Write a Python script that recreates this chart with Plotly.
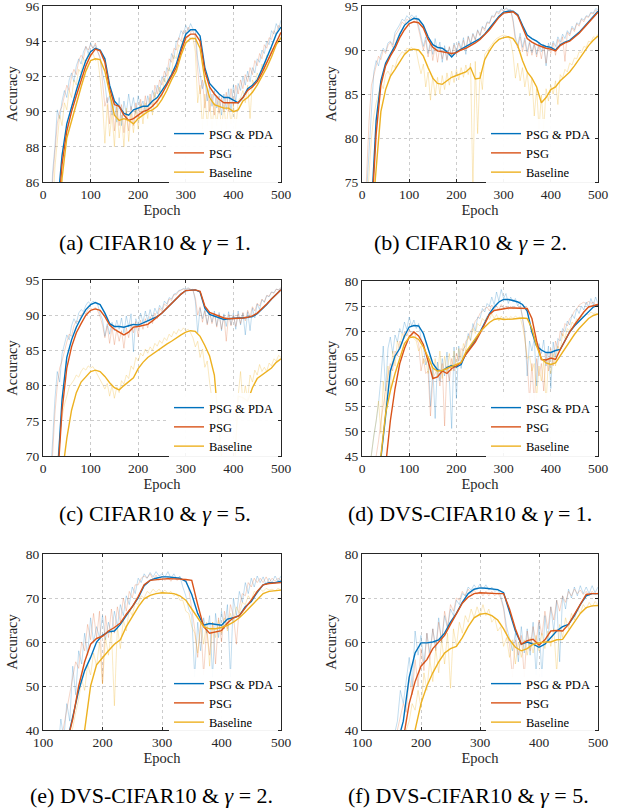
import plotly.graph_objects as go

# ---------------- epochs ----------------
EP10_0 = list(range(0, 501, 10))
EP5_0 = list(range(0, 501, 5))
EP10_100 = list(range(100, 501, 10))
EP5_100 = list(range(100, 501, 5))

SERIES = ["PSG & PDA", "PSG", "Baseline"]

# ---------------- (a) CIFAR10, gamma=1 ----------------
A_PDA = [80,80,80,84.5,87.5,89.3,90.3,91.2,92.1,92.9,93.4,93.6,93.5,93.0,91.5,90.6,90.3,89.9,89.8,90.1,90.2,90.3,90.3,90.6,90.8,91.2,91.6,92.1,92.7,93.6,94.4,94.65,94.65,94.3,92.5,91.6,91.3,91.0,90.8,90.8,90.65,90.5,90.8,91.3,91.5,91.8,92.4,93.0,93.7,94.4,94.8]
A_PSG = [80,80,80,83.5,87.0,88.9,90.0,90.9,91.8,92.6,93.2,93.55,93.45,92.8,91.3,90.4,90.3,89.8,89.5,89.6,89.8,90.0,90.1,90.3,90.6,91.0,91.5,92.0,92.5,93.4,94.2,94.4,94.4,94.0,92.3,91.4,91.0,90.7,90.5,90.5,90.5,90.5,90.8,91.2,91.4,91.7,92.2,92.8,93.4,94.0,94.5]
A_BASE = [80,80,80,82,86.2,88.5,89.5,90.4,91.4,92.3,92.9,93.0,92.95,92.3,91.0,89.8,89.5,89.6,89.5,89.3,89.6,89.8,90.0,90.1,90.3,90.7,91.2,91.8,92.3,93.2,93.9,94.15,94.15,93.6,91.8,90.8,90.4,90.3,90.2,90.2,90.0,90.1,90.6,90.8,91.1,91.5,92.0,92.5,93.1,93.8,94.2]
A_PDA_RAW = [75,75,78,82,86.5,88,90.1,89.6,90.6,91.2,90.8,91.8,92.2,91.7,92.6,93.0,92.7,93.4,93.7,93.3,93.9,93.6,93.8,93.4,93.1,92.2,91.6,90.5,90.9,89.8,90.6,89.4,90.8,89.2,90.6,89.9,91.0,90.1,90.8,89.9,90.9,90.2,90.6,90.0,90.9,90.4,91.2,90.8,91.5,91.1,92.0,91.7,92.5,92.3,93.3,93.0,94.0,94.1,94.6,94.4,94.9,94.6,95.0,94.7,94.6,93.0,92.0,91.3,91.8,90.6,91.4,90.3,91.2,90.2,90.9,89.8,91.0,90.1,91.3,90.0,91.5,90.6,91.6,91.2,92.0,91.5,92.3,91.7,92.5,92.2,93.0,92.8,93.5,93.3,94.0,93.8,94.6,94.4,95.0,94.7,95.2]
A_PSG_RAW = [75,75,77,81,86,87.7,89.3,90.0,90.3,90.9,91.5,91.2,92.0,92.4,92.1,92.9,93.2,93.0,93.7,93.5,93.8,93.6,93.9,93.4,93.0,91.7,90.3,90.8,89.3,90.7,88.9,90.3,89.2,90.4,88.8,90.0,88.9,90.3,89.2,90.5,89.6,90.7,89.8,90.9,90.0,91.0,90.3,91.5,91.0,91.8,91.5,92.3,92.0,93.0,92.8,93.6,93.5,94.2,94.0,94.6,94.4,94.8,94.5,94.6,94.2,92.4,91.0,91.8,90.2,91.3,90.0,91.0,89.8,90.9,89.9,90.8,90.0,91.1,90.0,91.3,90.3,91.5,91.0,91.8,91.3,92.1,91.7,92.5,92.1,92.9,92.6,93.3,93.0,93.8,93.6,94.2,94.1,94.6,94.4,94.9,94.7]
A_BASE_RAW = [75,75,76,79,84,86.8,88.5,89.8,89.2,90.5,90.1,91.2,90.8,91.8,91.5,92.4,92.2,93.0,92.8,93.3,93.1,93.3,92.9,93.0,91.9,90.5,88.2,90.4,88.6,89.9,88.0,90.3,88.5,89.8,88.0,90.2,88.3,89.9,88.8,90.1,89.0,90.4,89.3,90.5,89.6,90.8,89.8,91.1,90.3,91.4,90.8,91.9,91.5,92.5,92.2,93.2,93.0,93.8,93.6,94.2,94.0,94.3,94.1,94.2,93.4,90.5,91.5,89.0,91.0,89.2,90.7,89.0,90.5,89.2,90.6,88.9,90.4,89.0,90.5,89.3,90.4,89.0,90.6,90.8,91.2,90.5,91.5,89.6,91.8,91.5,92.2,91.9,92.7,92.4,93.2,93.0,93.6,93.5,94.0,93.9,94.3]

# ---------------- (b) CIFAR10, gamma=2 ----------------
B_PDA = [70,70,72,82,86.5,88.5,89.5,90.5,91.8,92.8,93.3,93.6,93.5,92.8,91.5,90.6,90.3,90.2,89.8,89.2,89.8,90.1,90.4,90.7,91.0,91.3,91.8,92.5,93.2,93.8,94.3,94.4,94.4,94.0,92.8,91.7,91.3,91.0,90.6,90.4,90.3,90.0,90.6,90.9,91.1,91.5,92.0,92.6,93.2,93.8,94.4]
B_PSG = [70,70,71,80.5,86,88.2,89.3,90.2,91.4,92.3,93.0,93.2,93.1,92.5,91.2,90.3,89.9,89.8,89.7,89.6,89.7,90.0,90.2,90.5,90.8,91.2,91.7,92.3,93.0,93.7,94.2,94.3,94.35,93.9,92.5,91.3,90.9,90.6,90.4,90.2,90.1,89.9,90.5,90.8,91.0,91.4,91.9,92.5,93.1,93.7,94.3]
B_BASE = [70,70,70,76.5,83,85.5,87,87.8,88.7,89.5,90.0,90.1,90.0,89.3,88.0,86.8,86.2,86.1,86.5,86.9,87.1,87.3,87.5,88.0,86.7,86.8,88.9,89.9,90.7,91.2,91.4,91.5,91.3,90.5,88.8,87.5,86.8,85.8,84.0,84.6,85.5,85.8,86.5,87.0,87.5,88.2,89.0,89.7,90.5,91.1,91.6]
B_PDA_RAW = [70,70,74,79,84,87.5,88.8,88.2,89.5,90.2,89.8,90.8,91.0,90.6,92.0,92.4,92.9,93.5,93.3,93.9,93.6,94.0,93.7,93.9,92.8,91.4,90.4,91.5,89.6,91.0,89.5,91.3,89.8,90.9,88.6,90.5,88.9,90.3,89.4,90.8,89.9,91.0,90.2,91.4,89.5,91.6,90.8,91.9,91.2,92.3,91.7,92.7,92.4,93.2,93.1,93.9,93.8,94.4,94.3,94.7,94.5,94.8,94.6,94.6,93.5,91.5,90.5,91.9,90.3,91.4,89.8,91.0,89.7,90.8,89.5,90.9,89.8,90.6,88.2,90.8,90.0,91.0,90.4,91.5,90.9,91.8,91.3,92.2,91.8,92.7,92.3,93.1,92.9,93.6,93.4,93.9,93.8,94.3,94.2,94.7,94.6]
B_PSG_RAW = [70,70,76,82,86,87,88.3,89.3,88.9,90.0,89.6,90.5,90.9,90.3,91.6,92.1,92.5,93.2,92.9,93.5,93.3,93.7,93.4,93.5,92.4,91.0,90.0,91.1,89.2,90.8,88.8,90.5,88.6,90.4,89.0,90.2,88.8,90.4,89.2,90.6,89.5,90.8,89.9,91.1,90.2,91.5,90.6,91.8,91.1,92.2,91.6,92.6,92.2,93.1,93.0,93.8,93.7,94.3,94.1,94.6,94.4,94.7,94.5,94.5,93.2,91.0,90.2,91.5,89.8,91.1,89.3,90.8,89.4,90.6,89.2,90.5,89.0,90.6,88.5,90.5,89.6,90.8,89.4,91.2,90.5,91.5,88.7,92.0,91.6,92.5,92.1,93.0,92.7,93.5,93.2,93.8,93.7,94.2,94.1,94.5,94.4]
B_BASE_RAW = [70,70,72,76,80,82.5,84,85,86.3,85.6,87.2,87.6,87.1,88.3,88.0,89.0,89.4,89.8,89.6,90.2,90.1,90.3,90.0,89.9,88.5,87.3,88.4,85.8,87.5,84.3,87.0,84.8,86.9,85.0,87.1,85.5,87.4,86.0,87.6,86.3,87.8,86.6,88.0,86.9,88.3,87.2,88.5,74,88.7,80.5,87.5,85.5,89.5,89.9,90.3,90.7,91.0,91.3,91.5,91.6,91.7,91.6,91.5,91.0,89.5,86.8,88.5,86.5,88.0,85.8,87.4,84.8,86.8,82.5,85.6,81.0,84.9,81.0,85.6,84.2,86.0,85.0,86.5,83.8,87.2,86.8,87.8,87.5,88.5,88.3,89.1,89.0,89.8,89.7,90.4,90.3,91.0,90.9,91.5,91.4,91.8]

# ---------------- (c) CIFAR10, gamma=5 ----------------
C_PDA = [60,60,62,67,78,84,86.5,88.3,89.6,90.8,91.5,91.8,91.5,90.3,88.8,88.4,88.4,88.3,88.5,88.7,88.6,88.9,89.2,89.4,89.8,90.3,91.0,91.7,92.4,93.0,93.5,93.6,93.6,93.3,91.0,90.1,89.9,89.6,89.4,89.5,89.6,89.6,89.6,89.7,89.8,90.2,90.8,91.5,92.3,93.0,93.6]
C_PSG = [60,60,61,66,76.5,82.5,85.5,87.5,88.8,90.0,90.7,90.9,90.7,89.8,88.6,88.0,87.6,87.2,87.6,88.3,88.4,88.5,88.7,89.2,89.7,90.3,91.0,91.7,92.4,93.0,93.5,93.6,93.6,93.4,91.3,90.4,90.1,89.8,89.6,89.5,89.5,89.5,89.6,89.7,89.9,90.3,90.9,91.6,92.3,93.0,93.6]
C_BASE = [60,60,60,62,67,72.5,76.5,79.0,80.5,81.3,82.0,82.2,82.0,81.3,80.4,79.7,79.4,80.0,80.5,81.1,82.4,83.3,84.0,84.5,85.0,85.5,85.9,86.3,86.8,87.2,87.6,87.8,87.7,87.0,85.7,84.2,81.5,74.5,66,64,65,78.5,78.3,77.8,79.7,81.0,81.5,81.9,82.5,83.3,83.8]
C_PDA_RAW = [60,60,62,66,72,78,82,80.5,84.5,85.8,87.2,86.5,88.5,89.5,88.8,90.3,90.8,90.5,91.4,91.9,91.6,92.0,91.8,91.5,90.2,89.4,87.0,88.8,87.3,89.0,87.8,89.3,88.0,89.6,87.5,89.9,88.3,90.2,84.8,89.5,88.5,90.3,89.0,90.6,89.2,90.8,89.6,91.0,90.2,91.4,90.8,92.0,91.6,92.5,92.3,93.0,93.1,93.5,93.6,93.8,93.7,93.9,93.6,93.7,92.0,87.5,91.0,89.5,90.8,88.8,90.5,89.0,90.6,88.5,90.4,87.8,90.2,88.4,90.5,88.6,90.3,88.0,90.6,88.6,90.3,87.2,90.5,87.8,91.0,89.6,91.6,90.8,92.2,91.8,92.8,92.6,93.3,93.2,93.7,93.6,93.9]
C_PSG_RAW = [60,60,61,64,70,76,80,82.5,83.5,85.0,86.2,87.3,87.0,88.5,89.2,89.0,90.0,90.4,90.2,90.9,91.0,90.8,91.1,90.6,89.8,88.6,86.8,88.5,86.0,88.3,85.8,88.0,86.3,87.8,85.3,88.2,86.8,88.8,87.5,89.1,86.9,89.3,88.0,89.5,88.2,89.8,88.8,90.3,89.5,91.0,90.5,91.6,91.3,92.3,92.1,92.9,92.9,93.4,93.5,93.7,93.6,93.8,93.7,93.5,92.5,90.0,91.2,89.0,90.6,88.6,90.5,88.8,90.3,88.3,90.2,88.0,89.9,86.3,90.1,88.5,90.0,88.4,90.2,88.8,90.4,89.2,90.7,89.8,91.2,90.6,91.7,91.3,92.3,91.9,92.8,92.7,93.3,93.1,93.7,93.6,93.9]
C_BASE_RAW = [60,60,60,61,62,65,69,72.5,75.5,77.3,78.5,79.8,80.3,80.8,81.5,81.2,82.0,82.5,82.2,82.8,82.5,82.7,82.1,81.5,81.0,80.2,79.5,80.3,78.5,80.0,78.2,79.8,79.0,80.7,80.2,81.5,81.0,82.8,82.3,84.0,83.5,84.6,84.2,85.2,84.6,85.5,85.0,86.0,85.6,86.4,86.0,86.8,86.4,87.3,86.9,87.7,87.3,88.0,87.7,88.2,87.8,88.0,87.5,86.8,85.5,86.3,84.0,85.2,82.6,83.5,80.5,78.0,75.5,72.0,68.0,66.0,69.5,64.0,69.0,66.0,70.5,76.0,78.5,82.0,77.5,80.0,78.0,81.5,80.5,82.2,81.5,83.0,82.0,82.6,82.0,83.2,82.8,83.8,83.5,84.3,84.0]

# ---------------- (d) DVS-CIFAR10, gamma=1 ----------------
D_PDA = [35,35,36,40,44.5,53,62,65.0,66.5,69,70.8,71.1,71.0,69.5,66.5,63.5,62.2,62.0,62.7,63.1,62.8,63.3,65.5,66.8,68.2,69.8,71.5,73.5,74.8,75.8,76.3,76.3,76.1,75.8,75.3,74.0,69.8,67.0,66.2,65.7,65.7,66.1,66.3,68.0,69.8,71.0,72.0,73.0,74.0,74.8,75.2]
D_PSG = [35,35,35,36,40,43,52,58.5,63.5,66.5,68.8,69.8,69.0,67.3,64.0,60.5,60.8,62.0,61.5,62.5,63.0,63.7,65.3,66.5,67.8,69.5,71.3,73.3,74.1,74.3,74.5,74.6,74.6,74.6,74.6,74.5,72.5,68.0,64.3,64.2,64.6,64.3,66.3,68.2,69.8,71.2,72.5,73.8,74.8,75.1,75.3]
D_BASE = [35,35,37,41,45,53.5,58,61.5,64.5,67.5,68.7,68.8,68.3,66.8,64.8,62.6,62.0,62.1,62.5,62.9,63.3,63.7,65.8,67.2,68.5,69.8,70.8,71.7,72.3,72.5,72.3,72.3,72.4,72.5,72.6,72.5,70.5,67.0,64.5,63.6,63.3,63.6,65.0,66.5,68.0,69.3,70.5,71.5,72.5,73.1,73.4]
D_PDA_RAW = [35,35,38,42,45,49,52,55.5,60.5,67,58,66.5,68.8,65.5,69.2,67.8,70.5,69.5,71.8,70.3,72.8,71.0,72.2,70.5,71.5,68.5,67.0,63.2,64.5,55.0,62.5,52.5,63.8,60.0,64.5,61.0,65.8,60.5,50.5,66.8,56.5,67.0,62.5,66.5,67.0,69.5,68.2,71.5,70.0,72.8,72.5,74.5,73.8,75.5,75.0,76.8,75.3,77.8,76.0,78.3,76.5,77.5,75.5,76.8,75.8,76.5,75.0,76.0,72.5,70.0,61.0,68.0,66.0,68.5,59.0,67.5,65.5,68.2,63.0,67.0,58.5,67.8,64.8,68.5,68.0,70.5,69.8,72.0,71.2,73.3,72.5,74.5,73.5,75.0,74.2,75.8,74.8,76.5,75.2,76.8,75.5]
D_PSG_RAW = [35,35,36,38,40,42,45,48,52,55,58.5,61,63.5,62,66,65,68,67.5,69.8,69.0,70.3,69.5,70.0,68.5,67.5,62.0,64.5,61.5,62.0,53.0,60.5,61.5,62.5,59.0,63.5,51.0,63.0,60.0,64.5,62.0,65.5,64.0,66.5,66.0,68.0,68.5,70.0,70.5,72.0,72.5,73.5,74.0,74.5,74.8,74.0,75.2,74.3,75.0,74.2,75.3,74.5,75.0,74.3,75.0,74.4,74.8,74.5,74.8,73.0,68.0,64.0,56.0,63.5,55.5,64.5,61.0,63.5,58.0,65.5,62.0,66.5,63.0,68.0,66.5,70.0,69.0,71.5,71.0,72.5,73.0,74.0,74.5,75.2,75.5,75.8,75.3,76.0,75.5,75.8,75.2,75.5]
D_BASE_RAW = [35,35,38,42,45,49,52,56,49.5,60,53.5,63,58,66,63,68,66.5,69.5,68.5,69.5,69.0,69.3,68.5,68.0,66.0,67.0,63.5,64.5,61.5,65.0,60.5,64.5,61.0,66.0,60.5,65.0,61.5,65.5,62.0,66.0,62.5,66.5,64.5,67.5,66.0,69.0,68.0,70.5,69.5,71.5,71.0,72.5,72.0,73.0,72.3,73.5,72.5,73.3,72.0,73.0,72.2,73.0,72.3,72.9,72.5,73.0,72.6,72.8,71.0,68.5,64.5,65.0,62.0,63.5,56.5,63.0,60.0,64.0,55.5,64.5,61.5,65.5,63.0,67.0,66.0,69.5,68.5,70.5,70.0,71.8,71.2,72.5,72.0,73.0,72.8,73.5,73.2,73.8,73.5,73.6,73.3]

# ---------------- (e) DVS-CIFAR10, gamma=2 ----------------
E_PDA = [30,30,31,33,37,43,49,53.5,56.5,60.0,61.5,62.3,62.5,64.0,66.0,67.8,70.0,72.8,74.0,74.5,74.8,74.8,74.7,74.5,73.8,70.8,66.5,63.8,64.2,64.0,63.8,65.2,65.5,66.0,68.0,69.2,71.3,73.0,73.5,73.5,73.8]
E_PSG = [30,30,31,33,37,42.5,50,55.5,59.5,60.8,61.3,62.5,63.3,64.3,66.3,68.0,70.3,73.0,74.0,74.2,74.3,74.4,74.4,74.3,74.2,74.0,68.5,63.5,62.0,62.3,62.6,64.3,65.5,66.0,67.7,69.5,71.5,73.0,73.3,73.4,73.5]
E_BASE = [25,25,26,28,30,33,37,40,50,54.8,56.5,58,59.5,60.5,63.5,65.8,68,69.8,70.6,71.0,71.2,71.1,71.0,70.5,69.5,67.5,65.5,63.5,63.0,63.0,63.3,63.8,64.5,65.5,66.8,68.2,69.8,71.0,71.5,71.7,71.8]
E_PDA_RAW = [30,30,31,32,33,35,42.5,38,46,42,54.5,48,58,55,62,57,65.5,60,63.5,61,66,60.5,64.5,62,67,63.5,68.5,66,70.5,68.5,72.5,71,74.5,73.5,75.5,74.5,75.8,74.8,76.0,75.0,75.5,74.8,76.0,74.5,75.5,74.2,75.0,72.5,70.5,67.5,66.0,52.0,64.5,58.0,65.5,62.0,66.0,52.0,66.5,61.0,67.0,63.0,68.5,52.0,70.0,66.0,71.5,69.0,73.5,71.0,74.5,72.5,75.0,73.5,74.8,73.0,74.5,73.5,75.0,73.8,75.0]
E_PSG_RAW = [30,30,30,31,32,34,37,41,45,48,52,55.5,54,60,58,64,60.5,66.5,61,67,50.5,66,61,67.5,62,68,64.5,70,67,71.5,70,73,73,74.5,75,74.5,75.5,74.2,75.2,74.0,75.0,74.0,74.8,73.8,74.8,74.0,74.5,74.0,74.2,72.0,68.0,63.0,56.5,64.5,52.5,63.0,57.0,64.5,55.0,65.5,60.0,67.0,63.0,68.5,66.0,59.5,68.0,71.0,70.5,73.5,72.5,74.5,73.5,74.5,73.5,74.8,73.5,74.5,73.8,74.5,74.0]
E_BASE_RAW = [25,25,26,27,28,30,32,34,36,38,40.5,44,47,51.5,49,55,52.5,57.5,54.5,60,50.5,61,57,62.5,45.5,63.5,58.5,65,62.5,67.5,66,69,68.5,70.5,70,71.5,71.0,72.0,71.3,72.0,71.2,71.8,71.0,71.5,70.5,71.0,69.5,69.5,67.0,66.5,63.5,62.0,57.5,64.0,59.5,64.5,54.5,64.5,61.0,65.0,62.0,65.5,62.5,66.5,64.5,68.0,66.5,69.0,68.5,70.5,69.5,71.5,71.0,72.0,71.5,72.2,71.8,72.0,71.6,72.2,71.8]

# ---------------- (f) DVS-CIFAR10, gamma=5 ----------------
F_PDA = [30,30,30,31,32,34,37,42,52,57.5,59.8,59.8,60.0,60.5,62.0,64.5,66.5,69.0,71.0,72.0,72.3,72.2,72.0,71.9,71.2,67.0,62.5,59.5,60.0,59.5,58.8,59.5,61.0,62.5,63.5,64.0,66.0,68.5,70.5,71.0,71.0]
F_PSG = [30,30,30,31,32,33,35,38,46,51,54.5,56.0,58.5,60.0,61.5,64.0,66.5,68.8,70.2,71.0,71.2,71.1,71.0,71.0,71.0,67.5,63.0,59.5,60.3,60.6,59.3,60.5,62.5,62.6,62.5,64.0,66.3,68.5,70.8,71.0,71.0]
F_BASE = [25,25,25,26,27,28,30,32,36,40,46,50.0,53,55.5,57.5,58.5,59.0,61.0,63.5,65.5,66.3,66.5,66.0,65.0,63.0,60.5,58.8,58.0,58.5,59.5,59.8,60.0,60.0,60.5,60.6,62.5,64.5,66.5,67.8,68.2,68.3]
F_PDA_RAW = [30,30,30,31,32,33,34,35,36,37,38,39,42,49,46,52,56.5,50,62.5,57,61.5,55,62,57.5,63,58.5,65.5,60,66,63,67.5,66,69.5,68.5,71.0,70.5,72.5,71.8,73.0,72.0,73.2,72.0,73.0,71.8,72.5,71.5,72.0,70.5,68.0,63.5,60.5,58.0,62.0,55.5,63.5,57.5,63.0,57.0,64.5,52.5,64.5,52.0,66.0,60.0,68.0,62.5,69.5,55.5,70.5,67.5,72.0,70.0,72.5,70.5,72.8,71.0,72.5,71.0,72.8,71.2,72.5]
F_PSG_RAW = [30,30,30,30,31,32,33,34,35,36,37,38,40,43,46,44,52,48,56,50,58.5,53.5,62,56,63,58,64.5,60,67,63.5,68.5,67,70,69.5,71.5,70.5,72.0,71.0,71.8,70.8,71.5,70.5,71.5,70.5,71.5,70.5,71.2,70.0,67.5,62.0,59.5,52.0,60.5,57.0,61.5,52.0,62.5,58.0,63.5,60.0,65.0,61.5,67.0,63.0,68.0,65.0,69.5,67.0,70.5,69.0,71.5,70.5,72.0,71.0,71.8,70.8,71.5,70.5,71.5,70.8,71.2]
F_BASE_RAW = [25,25,25,26,26,27,28,29,30,31,32,33,35,36,38,40,42,46,44.5,49,45,53,49,56,51,58.5,53,60.5,55,62,49.5,63,59,64.5,62,66,64.5,67.5,65.5,68.0,66.0,68.5,66.0,67.5,64.5,65.5,62.5,63.5,59.0,61.0,56.5,60.5,55.0,60.0,56.5,60.5,57.0,61.0,57.5,61.5,58.0,62.0,58.5,62.5,59.0,63.0,53.0,64.0,61.0,65.5,63.0,66.5,65.0,67.5,66.5,68.5,67.5,69.0,68.0,69.2,68.5]

PANELS = [
    dict(ep=EP10_0, ep_raw=EP5_0, s=[A_PDA, A_PSG, A_BASE], r=[A_PDA_RAW, A_PSG_RAW, A_BASE_RAW],
         xr=[0, 500], yr=[86, 96], yt=[86, 88, 90, 92, 94, 96], cap="(a) CIFAR10 &amp; <i>γ</i> = 1."),
    dict(ep=EP10_0, ep_raw=EP5_0, s=[B_PDA, B_PSG, B_BASE], r=[B_PDA_RAW, B_PSG_RAW, B_BASE_RAW],
         xr=[0, 500], yr=[75, 95], yt=[75, 80, 85, 90, 95], cap="(b) CIFAR10 &amp; <i>γ</i> = 2."),
    dict(ep=EP10_0, ep_raw=EP5_0, s=[C_PDA, C_PSG, C_BASE], r=[C_PDA_RAW, C_PSG_RAW, C_BASE_RAW],
         xr=[0, 500], yr=[70, 95], yt=[70, 75, 80, 85, 90, 95], cap="(c) CIFAR10 &amp; <i>γ</i> = 5."),
    dict(ep=EP10_0, ep_raw=EP5_0, s=[D_PDA, D_PSG, D_BASE], r=[D_PDA_RAW, D_PSG_RAW, D_BASE_RAW],
         xr=[0, 500], yr=[45, 80], yt=[45, 50, 55, 60, 65, 70, 75, 80], cap="(d) DVS-CIFAR10 &amp; <i>γ</i> = 1."),
    dict(ep=EP10_100, ep_raw=EP5_100, s=[E_PDA, E_PSG, E_BASE], r=[E_PDA_RAW, E_PSG_RAW, E_BASE_RAW],
         xr=[100, 500], yr=[40, 80], yt=[40, 50, 60, 70, 80], cap="(e) DVS-CIFAR10 &amp; <i>γ</i> = 2."),
    dict(ep=EP10_100, ep_raw=EP5_100, s=[F_PDA, F_PSG, F_BASE], r=[F_PDA_RAW, F_PSG_RAW, F_BASE_RAW],
         xr=[100, 500], yr=[40, 80], yt=[40, 50, 60, 70, 80], cap="(f) DVS-CIFAR10 &amp; <i>γ</i> = 5."),
]

COLORS = ["#0072BD", "#D95319", "#EDB120"]
RAW_COLORS = ["rgba(0,114,189,0.24)", "rgba(217,83,25,0.24)", "rgba(237,177,32,0.28)"]

W, H = 617, 811
FONT = "Liberation Serif"
AX = "#262626"

# pixel boxes (left, right, top, bottom)
BOXES = [(43, 281, 6, 182), (362, 598, 6, 182),
         (43, 281, 280, 456), (362, 598, 281, 456),
         (43, 281, 554, 730), (362, 598, 554, 730)]
CAP_POS = [(155, 243), (470, 243), (155, 513), (470, 513), (151, 795), (469, 795)]

fig = go.Figure()
layout = dict(width=W, height=H, margin=dict(l=0, r=0, t=0, b=0),
              paper_bgcolor="white", plot_bgcolor="white",
              font=dict(family=FONT, color=AX, size=13), showlegend=True,
              annotations=[])

for i, p in enumerate(PANELS):
    k = "" if i == 0 else str(i + 1)
    xa, ya = "x" + k, "y" + k
    lg = "legend" + k
    for j in range(3):
        fig.add_trace(go.Scatter(x=p["ep_raw"], y=p["r"][j], mode="lines", xaxis=xa, yaxis=ya,
                                 line=dict(color=RAW_COLORS[j], width=1), showlegend=False,
                                 hoverinfo="skip"))
    for j in range(3):
        fig.add_trace(go.Scatter(x=p["ep"], y=p["s"][j], mode="lines", xaxis=xa, yaxis=ya,
                                 name=SERIES[j], legend=lg,
                                 line=dict(color=COLORS[j], width=1.4)))
    l, r, t, b = BOXES[i]
    common = dict(showline=True, linecolor=AX, linewidth=1, mirror="ticks", ticks="inside",
                  ticklen=3, tickcolor=AX, showgrid=True, gridcolor="#cccccc", griddash="dot",
                  gridwidth=1, zeroline=False, automargin=False, ticklabeloverflow="allow",
                  tickfont=dict(family=FONT, size=13.5, color=AX))
    layout["xaxis" + k] = dict(common, domain=[l / W, r / W], anchor=ya, range=p["xr"],
                               tickvals=list(range(p["xr"][0], 501, 100)),
                               title=dict(text="Epoch", standoff=3, font=dict(size=14.5, family=FONT, color=AX)))
    layout["yaxis" + k] = dict(common, domain=[1 - b / H, 1 - t / H], anchor=xa, range=p["yr"],
                               tickvals=p["yt"],
                               title=dict(text="Accuracy", standoff=4, font=dict(size=14.5, family=FONT, color=AX)))
    mid = b - 29 if i < 4 else b - 27
    layout[lg] = dict(x=(r - 3) / W, y=1 - mid / H, xanchor="right", yanchor="middle",
                      xref="paper", yref="paper", bgcolor="rgba(255,255,255,0.95)",
                      borderwidth=0, font=dict(family=FONT, size=12.5, color="black"),
                      itemwidth=30, tracegroupgap=0)
    cx, cy = CAP_POS[i]
    layout["annotations"].append(dict(text=p["cap"], x=cx / W, y=1 - cy / H, xref="paper", yref="paper",
                                      showarrow=False, xanchor="center", yanchor="middle",
                                      font=dict(family=FONT, size=22, color="black")))

fig.update_layout(**layout)
fig.write_html("out.html", config={"displayModeBar": False},
               post_script="document.body.style.margin='0';")
